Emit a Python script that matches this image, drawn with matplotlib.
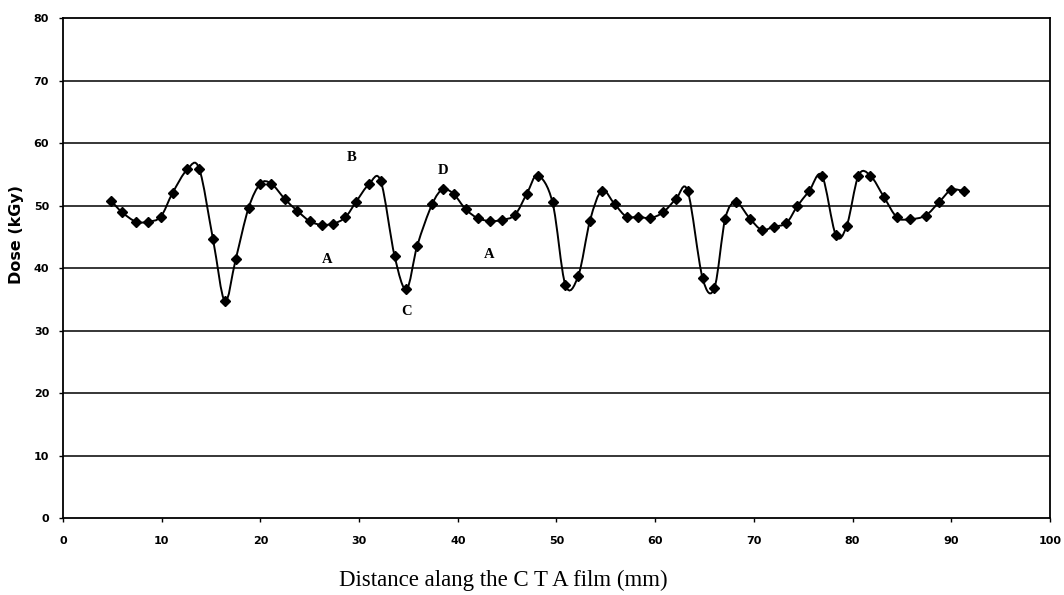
import matplotlib.pyplot as plt
from matplotlib.path import Path
from matplotlib.patches import PathPatch
import numpy as np

# dose profile
distance = [4.9, 6.0, 7.4, 8.6, 9.9, 11.1, 12.6, 13.8, 15.2, 16.4, 17.5, 18.8,
            20.0, 21.1, 22.5, 23.7, 25.0, 26.2, 27.4, 28.6, 29.7, 31.0, 32.2,
            33.6, 34.8, 35.9, 37.4, 38.5, 39.6, 40.8, 42.0, 43.3, 44.5, 45.8,
            47.0, 48.1, 49.6, 50.9, 52.2, 53.4, 54.6, 55.9, 57.1, 58.3, 59.5,
            60.8, 62.1, 63.3, 64.8, 66.0, 67.1, 68.2, 69.6, 70.8, 72.0, 73.3,
            74.4, 75.6, 76.9, 78.3, 79.4, 80.6, 81.8, 83.2, 84.5, 85.8, 87.4,
            88.8, 90.0, 91.3]
dose = [50.7, 48.9, 47.4, 47.4, 48.2, 52.0, 55.8, 55.9, 44.6, 34.7, 41.4, 49.6,
        53.5, 53.5, 51.0, 49.2, 47.5, 46.9, 47.1, 48.1, 50.6, 53.4, 53.9,
        41.9, 36.6, 43.6, 50.2, 52.6, 51.8, 49.4, 48.0, 47.5, 47.7, 48.5,
        51.9, 54.8, 50.5, 37.3, 38.7, 47.6, 52.4, 50.2, 48.2, 48.2, 48.0,
        48.9, 51.0, 52.3, 38.4, 36.8, 47.9, 50.5, 47.9, 46.1, 46.6, 47.2,
        49.9, 52.3, 54.8, 45.3, 46.7, 54.8, 54.8, 51.3, 48.1, 47.8, 48.4,
        50.6, 52.5, 52.3]

labels = ['B', 'D', 'A', 'C', 'A']
label_x = [29.2, 38.5, 26.8, 34.8, 43.2]
label_y = [57.7, 55.6, 41.4, 33.1, 42.1]


def smooth_path(xs, ys, t=1 / 6):
    # Excel-style smoothed line: Catmull-Rom segments as cubic Bezier curves
    pts = np.column_stack([xs, ys])
    verts = [pts[0]]
    codes = [Path.MOVETO]
    n = len(pts)
    for i in range(n - 1):
        p0 = pts[i - 1] if i > 0 else pts[i]
        p1 = pts[i]
        p2 = pts[i + 1]
        p3 = pts[i + 2] if i + 2 < n else pts[i + 1]
        c1 = p1 + (p2 - p0) * t
        c2 = p2 - (p3 - p1) * t
        verts += [c1, c2, p2]
        codes += [Path.CURVE4] * 3
    return Path(verts, codes)


fig = plt.figure(figsize=(10.64, 5.95), dpi=100)
ax = fig.add_axes([0.0592, 0.1294, 0.9276, 0.8403])

for yv in range(10, 80, 10):
    ax.axhline(yv, color='black', lw=1.1, zorder=1)

ax.add_patch(PathPatch(smooth_path(distance, dose), fill=False,
                       edgecolor='black', lw=1.4, zorder=3))
ax.plot(distance, dose, 'D', color='black', markersize=4.6, zorder=4)

for s, lx, ly in zip(labels, label_x, label_y):
    ax.text(lx, ly, s, fontsize=10.5, fontweight='bold', family='Liberation Serif',
            ha='center', va='center', zorder=5,
            bbox=dict(facecolor='white', edgecolor='none', pad=1) if s == 'A' else None)

ax.set_xlim(0, 100)
ax.set_ylim(0, 80)
ax.set_xticks(range(0, 101, 10))
ax.set_yticks(range(0, 81, 10))
ax.tick_params(direction='out', length=3, width=1, labelsize=8)
ax.tick_params(axis='x', pad=10)
ax.tick_params(axis='y', pad=7)
for lab in ax.get_xticklabels() + ax.get_yticklabels():
    lab.set_fontweight('bold')
for sp in ax.spines.values():
    sp.set_linewidth(1.3)

fig.text(17 / 1064, 1 - 235 / 595, 'Dose (kGy)', rotation=90, fontsize=11.5,
         fontweight='bold', ha='center', va='center')
fig.text(503 / 1064, 1 - 580 / 595, 'Distance alang the C T A film (mm)',
         fontsize=16.5, family='Liberation Serif', ha='center', va='center')

plt.savefig('out.png', dpi=100)
